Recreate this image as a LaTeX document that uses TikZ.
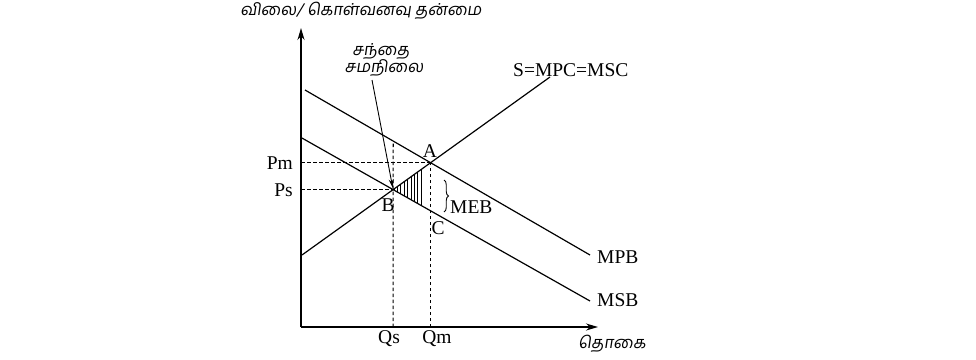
\documentclass[tikz,border=0pt]{standalone}
\usepackage{fontspec}
\setmainfont{Liberation Serif}
\newfontfamily\ta[Script=Tamil,FakeSlant=0.15]{Hind Madurai}
\usetikzlibrary{arrows.meta,decorations.pathreplacing}
\begin{document}
\begin{tikzpicture}[x=1pt,y=-1pt,
  curve/.style={line width=1.2pt},
  axis/.style={line width=1.4pt,-{Stealth[length=12pt,width=7pt]}},
  guide/.style={line width=1.2pt,dash pattern=on 3.5pt off 2.5pt},
  lbl/.style={inner sep=0pt,font=\fontsize{19.5}{22}\selectfont},
  talbl/.style={inner sep=0pt,font=\fontsize{16.5}{19}\ta}]
\useasboundingbox (0,0) rectangle (976,359);
\coordinate (O) at (301,327);
\coordinate (Ytop) at (301,28);
\coordinate (Xend) at (598,327);
\coordinate (S0) at (302,255); \coordinate (S1) at (550,77);
\coordinate (P0) at (305,90);  \coordinate (P1) at (590,255);
\coordinate (M0) at (301,137.5); \coordinate (M1) at (590,301);
\coordinate (A) at (intersection of S0--S1 and P0--P1);
\coordinate (B) at (intersection of S0--S1 and M0--M1);
\coordinate (Qm) at (A |- O);
\coordinate (Qs) at (B |- O);
\coordinate (Pm) at (A -| O);
\coordinate (Ps) at (B -| O);
\coordinate (Bt) at (intersection of B--Qs and P0--P1);
\coordinate (V0) at (424.5,0); \coordinate (V1) at (424.5,400);
\coordinate (H1) at (intersection of V0--V1 and S0--S1);
\coordinate (H2) at (intersection of V0--V1 and M0--M1);
% hatch
\begin{scope}
  \clip (B) -- (H1) -- (H2) -- cycle;
  \foreach \x in {394,397.4,...,426} \draw[line width=1pt] (\x,140) -- (\x,230);
\end{scope}
% guides
\draw[guide] (Pm) -- (A);
\draw[guide] (Ps) -- (B);
\draw[guide] (Qs) -- (Bt);
\draw[guide] (Qm) -- (A);
% curves
\draw[curve] (S0) -- (S1);
\draw[curve] (P0) -- (P1);
\draw[curve] (M0) -- (M1);
% axes
\draw[axis] (O) -- (Ytop);
\draw[axis] (O) -- (Xend);
% labels
\node[talbl] (ylab) at (361,11) {விலை/ கொள்வனவு தன்மை};
\node[talbl] (xlab) at (612,344) {தொகை};
\node[talbl] (eq1) at (381,51) {சந்தை};
\node[talbl] (eq2) at (384,68) {சமநிலை};
\coordinate (eqs) at (372,80);
\draw[line width=0.9pt,-{Stealth[length=9pt,width=5pt]},shorten >=1.5pt] (eqs) -- (B);
\node[lbl,anchor=east] (pm) at (293,163) {Pm};
\node[lbl,anchor=east] (ps) at (293,190) {Ps};
\node[lbl] (qs) at (389,339) {Qs};
\node[lbl] (qm) at (437,339) {Qm};
\node[lbl] (la) at (430,151) {A};
\node[lbl] (lb) at (388,205) {B};
\node[lbl] (lc) at (438,228) {C};
\node[lbl,anchor=west] (smc) at (513,70) {S=MPC=MSC};
\node[lbl,anchor=west] (mpb) at (597,257) {MPB};
\node[lbl,anchor=west] (msb) at (597,300) {MSB};
\coordinate (br0) at (444,180); \coordinate (br1) at (444,212);
\draw[line width=0.9pt,decorate,decoration={brace,amplitude=4.5pt}] (br0) -- (br1);
\node[lbl,anchor=west] (meb) at (450,207) {MEB};
\end{tikzpicture}
\end{document}
